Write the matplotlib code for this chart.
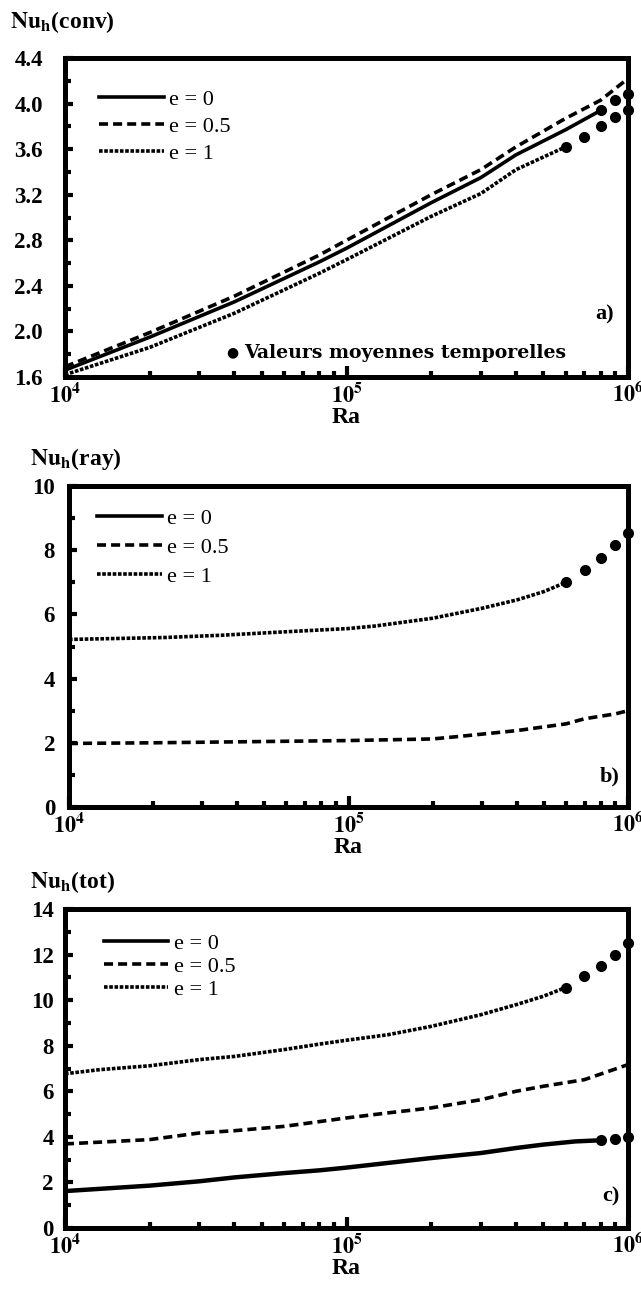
import matplotlib
matplotlib.use("Agg")
import matplotlib.pyplot as plt
from matplotlib.lines import Line2D
from matplotlib.ticker import FixedLocator, NullFormatter, LogLocator

plt.rcParams['font.family'] = ['Liberation Serif', 'DejaVu Serif']
plt.rcParams['mathtext.fontset'] = 'stix'

# ---------------- data ----------------
# a) convective Nusselt
conv_e0_x = [1e4, 2e4, 4e4, 8e4, 1e5, 2e5, 3e5, 4e5, 6e5, 8e5]
conv_e0_y = [1.66, 1.95, 2.26, 2.61, 2.73, 3.13, 3.35, 3.55, 3.77, 3.94]
conv_e05_x = [1e4, 2e4, 4e4, 8e4, 1e5, 2e5, 3e5, 4e5, 6e5, 8e5, 1e6]
conv_e05_y = [1.69, 1.99, 2.31, 2.67, 2.80, 3.20, 3.42, 3.62, 3.87, 4.03, 4.22]
conv_e1_x = [1e4, 2e4, 4e4, 8e4, 1e5, 2e5, 3e5, 4e5, 6e5]
conv_e1_y = [1.62, 1.86, 2.16, 2.51, 2.63, 3.01, 3.21, 3.42, 3.62]
conv_e0_mean_x = [8e5, 9e5, 1e6]
conv_e0_mean_y = [3.94, 4.03, 4.08]
conv_e1_mean_x = [6e5, 7e5, 8e5, 9e5, 1e6]
conv_e1_mean_y = [3.62, 3.71, 3.80, 3.88, 3.94]

# b) radiative Nusselt
ray_e0_x = [1e4, 1e6]
ray_e0_y = [0.0, 0.0]
ray_e05_x = [1e4, 2e4, 5e4, 1e5, 2e5, 2.5e5, 4e5, 6e5, 7e5, 9e5, 1e6]
ray_e05_y = [1.98, 2.00, 2.04, 2.07, 2.12, 2.20, 2.38, 2.59, 2.75, 2.90, 3.00]
ray_e1_x = [1e4, 2.2e4, 3.5e4, 6e4, 1e5, 1.25e5, 2e5, 3e5, 4e5, 5e5, 6e5]
ray_e1_y = [5.22, 5.28, 5.35, 5.46, 5.56, 5.64, 5.88, 6.19, 6.45, 6.71, 7.00]
ray_e1_mean_x = [6e5, 7e5, 8e5, 9e5, 1e6]
ray_e1_mean_y = [7.00, 7.39, 7.76, 8.17, 8.54]

# c) total Nusselt
tot_e0_x = [1e4, 2e4, 3e4, 4e4, 6e4, 8e4, 1e5, 2e5, 3e5, 4e5, 5e5, 6.5e5, 8e5]
tot_e0_y = [1.62, 1.86, 2.05, 2.22, 2.41, 2.53, 2.65, 3.07, 3.29, 3.51, 3.66, 3.80, 3.85]
tot_e0_mean_x = [8e5, 9e5, 1e6]
tot_e0_mean_y = [3.85, 3.92, 3.98]
tot_e05_x = [1e4, 2e4, 3e4, 4e4, 6e4, 1e5, 1.4e5, 2e5, 3e5, 4e5, 5e5, 7e5, 1e6]
tot_e05_y = [3.69, 3.88, 4.17, 4.27, 4.46, 4.83, 5.05, 5.27, 5.63, 6.00, 6.22, 6.51, 7.17]
tot_e1_x = [1e4, 1.33e4, 2e4, 3e4, 4e4, 6e4, 8e4, 1e5, 1.4e5, 2e5, 3e5, 4e5, 5e5, 6e5]
tot_e1_y = [6.77, 6.95, 7.12, 7.39, 7.53, 7.83, 8.07, 8.24, 8.48, 8.85, 9.36, 9.80, 10.17, 10.55]
tot_e1_mean_x = [6e5, 7e5, 8e5, 9e5, 1e6]
tot_e1_mean_y = [10.55, 11.04, 11.48, 12.00, 12.50]

legend_labels = ['e = 0', 'e = 0.5', 'e = 1']
x_tick_labels = [r'$\mathbf{10^{4}}$', r'$\mathbf{10^{5}}$', r'$\mathbf{10^{6}}$']
titles = [r'$\mathbf{Nu_h}$(conv)', r'$\mathbf{Nu_h}$(ray)', r'$\mathbf{Nu_h}$(tot)']
panel_tags = ['a)', 'b)', 'c)']

# ---------------- styles ----------------
LW = 2.6
ST_SOLID = '-'
ST_DASH = (0, (2.5, 1.4))
ST_DOT = (0, (1.0, 0.45))
MS = 7

fig = plt.figure(figsize=(6.41, 12.93), dpi=100)
W, H = 641.0, 1293.0

def make_axes(left, right, top, bottom):
    return fig.add_axes([left / W, 1 - bottom / H, (right - left) / W, (bottom - top) / H])

ax_a = make_axes(65, 628, 58, 377)
ax_b = make_axes(69, 628, 486, 807)
ax_c = make_axes(65, 628, 909, 1228)

def style_axes(ax, ylim, ymajor, yminor, ylabels, ypad):
    ax.set_xscale('log')
    ax.set_xlim(1e4, 1e6)
    ax.set_ylim(*ylim)
    for s in ax.spines.values():
        s.set_linewidth(3.6)
    ax.xaxis.set_major_locator(FixedLocator([1e4, 1e5, 1e6]))
    ax.xaxis.set_minor_locator(LogLocator(base=10, subs=range(2, 10)))
    ax.xaxis.set_minor_formatter(NullFormatter())
    ax.set_xticklabels(x_tick_labels)
    ax.yaxis.set_major_locator(FixedLocator(ymajor))
    ax.yaxis.set_minor_locator(FixedLocator(yminor))
    ax.set_yticklabels(ylabels)
    ax.tick_params(axis='both', which='both', direction='in', top=False, right=False)
    ax.tick_params(axis='x', which='major', length=8, width=3, labelsize=16, pad=4)
    ax.tick_params(axis='x', which='minor', length=4.5, width=3)
    ax.tick_params(axis='y', which='major', length=5.5, width=3, labelsize=16.5, pad=ypad)
    ax.tick_params(axis='y', which='minor', length=4, width=3)
    for lab in ax.get_yticklabels():
        lab.set_fontweight('bold')
    ax.set_xlabel('Ra', fontsize=17, fontweight='bold', labelpad=0)

def legend(ax, anchor, spacing):
    handles = [Line2D([], [], color='black', lw=LW, linestyle=ST_SOLID),
               Line2D([], [], color='black', lw=LW, linestyle=ST_DASH),
               Line2D([], [], color='black', lw=LW, linestyle=ST_DOT)]
    ax.legend(handles, legend_labels, loc='upper left', bbox_to_anchor=anchor,
              frameon=False, handlelength=2.9, handletextpad=0.25,
              labelspacing=spacing, borderaxespad=0, fontsize=16)

# ----- a) -----
ax = ax_a
ax.plot(conv_e0_x, conv_e0_y, color='black', lw=LW, linestyle=ST_SOLID)
ax.plot(conv_e05_x, conv_e05_y, color='black', lw=LW, linestyle=ST_DASH)
ax.plot(conv_e1_x, conv_e1_y, color='black', lw=LW, linestyle=ST_DOT)
ax.plot(conv_e0_mean_x, conv_e0_mean_y, 'o', color='black', ms=MS, clip_on=False)
ax.plot(conv_e1_mean_x, conv_e1_mean_y, 'o', color='black', ms=MS, clip_on=False)
style_axes(ax, (1.6, 4.4),
           [1.6, 2.0, 2.4, 2.8, 3.2, 3.6, 4.0, 4.4],
           [1.8, 2.2, 2.6, 3.0, 3.4, 3.8, 4.2],
           ['1.6', '2.0', '2.4', '2.8', '3.2', '3.6', '4.0', '4.4'], 16)
legend(ax, (0.045, 0.93), 0.3)
ax.text(0.298, 0.078, '\u25cf', transform=ax.transAxes, fontsize=10,
        va='center', ha='center', family='DejaVu Sans')
ax.text(0.318, 0.075, 'Valeurs moyennes temporelles', transform=ax.transAxes,
        fontsize=13.6, fontweight='bold', va='center', ha='left', family='DejaVu Serif')
ax.text(0.975, 0.195, panel_tags[0], transform=ax.transAxes, fontsize=16,
        fontweight='bold', ha='right', va='center')

# ----- b) -----
ax = ax_b
ax.plot(ray_e0_x, ray_e0_y, color='black', lw=LW, linestyle=ST_SOLID)
ax.plot(ray_e05_x, ray_e05_y, color='black', lw=LW, linestyle=ST_DASH)
ax.plot(ray_e1_x, ray_e1_y, color='black', lw=LW, linestyle=ST_DOT)
ax.plot(ray_e1_mean_x, ray_e1_mean_y, 'o', color='black', ms=MS, clip_on=False)
style_axes(ax, (0, 10), [0, 2, 4, 6, 8, 10], [1, 3, 5, 7, 9],
           ['0', '2', '4', '6', '8', '10'], 10)
legend(ax, (0.035, 0.958), 0.38)
ax.text(0.985, 0.095, panel_tags[1], transform=ax.transAxes, fontsize=16,
        fontweight='bold', ha='right', va='center')

# ----- c) -----
ax = ax_c
ax.plot(tot_e0_x, tot_e0_y, color='black', lw=LW + 0.6, linestyle=ST_SOLID)
ax.plot(tot_e05_x, tot_e05_y, color='black', lw=LW, linestyle=ST_DASH)
ax.plot(tot_e1_x, tot_e1_y, color='black', lw=LW, linestyle=ST_DOT)
ax.plot(tot_e0_mean_x, tot_e0_mean_y, 'o', color='black', ms=MS, clip_on=False)
ax.plot(tot_e1_mean_x, tot_e1_mean_y, 'o', color='black', ms=MS, clip_on=False)
style_axes(ax, (0, 14), [0, 2, 4, 6, 8, 10, 12, 14], [1, 3, 5, 7, 9, 11, 13],
           ['0', '2', '4', '6', '8', '10', '12', '14'], 8)
legend(ax, (0.053, 0.952), 0.12)
ax.text(0.985, 0.10, panel_tags[2], transform=ax.transAxes, fontsize=16,
        fontweight='bold', ha='right', va='center')

# titles (y-axis names above the frames)
fig.text(10 / W, 1 - 22 / H, titles[0], fontsize=17, fontweight='bold', va='center', ha='left')
fig.text(30 / W, 1 - 459 / H, titles[1], fontsize=17, fontweight='bold', va='center', ha='left')
fig.text(30 / W, 1 - 882 / H, titles[2], fontsize=17, fontweight='bold', va='center', ha='left')

fig.savefig('out.png', dpi=100)
